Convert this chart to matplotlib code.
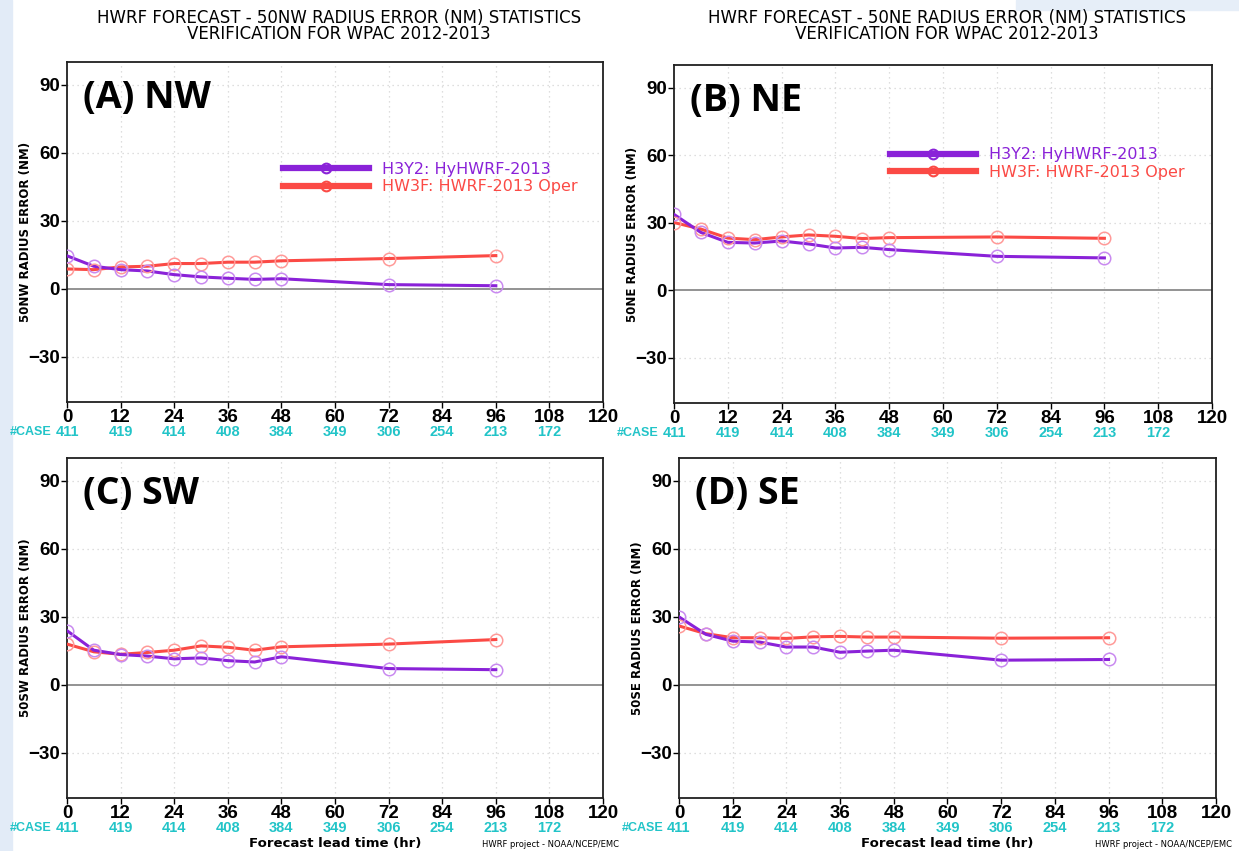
import numpy as np
import matplotlib
matplotlib.use("Agg")
import matplotlib.pyplot as plt
from matplotlib.lines import Line2D
from matplotlib.patches import Rectangle

plt.rcParams['font.family'] = ['Liberation Sans Narrow', 'Liberation Sans', 'DejaVu Sans']

# ---------------- data ----------------
hours = [0, 6, 12, 18, 24, 30, 36, 42, 48, 72, 96]
case_hours = [0, 12, 24, 36, 48, 60, 72, 84, 96, 108]
case_counts = [411, 419, 414, 408, 384, 349, 306, 254, 213, 172]

nw_h3y2 = [14.5, 9.9, 8.4, 7.8, 6.2, 5.2, 4.6, 4.1, 4.4, 1.8, 1.3]
nw_hw3f = [8.7, 8.4, 9.6, 9.9, 11.1, 11.1, 11.7, 11.7, 12.3, 13.3, 14.6]

ne_h3y2 = [33.7, 25.7, 21.3, 21.0, 21.9, 20.6, 18.8, 19.1, 18.1, 15.1, 14.4]
ne_hw3f = [30.1, 27.2, 23.2, 22.5, 23.7, 24.6, 24.0, 23.0, 23.4, 23.7, 23.1]

sw_h3y2 = [23.8, 15.2, 13.3, 12.6, 11.4, 11.8, 10.6, 10.0, 12.3, 7.1, 6.6]
sw_hw3f = [17.9, 14.5, 13.4, 14.2, 15.2, 17.1, 16.5, 15.2, 16.7, 17.9, 19.9]

se_h3y2 = [29.9, 22.2, 19.2, 18.8, 16.6, 16.6, 14.3, 14.8, 15.2, 10.8, 11.1]
se_hw3f = [25.9, 22.5, 20.7, 20.7, 20.4, 21.1, 21.3, 21.0, 21.0, 20.5, 20.7]

quadrants = ["NW", "NE", "SW", "SE"]
panel_tags = ["(A) NW", "(B) NE", "(C) SW", "(D) SE"]
h3y2_all = [nw_h3y2, ne_h3y2, sw_h3y2, se_h3y2]
hw3f_all = [nw_hw3f, ne_hw3f, sw_hw3f, se_hw3f]
label_h3y2 = "H3Y2: HyHWRF-2013"
label_hw3f = "HW3F: HWRF-2013 Oper"

# ---------------- styles ----------------
purple = "#8a22d8"
purple_mk = "#c98af0"
red = "#fb4a45"
red_mk = "#ff9a98"
teal = "#22c4c8"

fig = plt.figure(figsize=(12.39, 8.51), dpi=100)
fig.patch.set_facecolor("white")
# slide background bits at the edges
fig.patches.append(Rectangle((0, 0), 0.010, 1, transform=fig.transFigure,
                             color="#e2ebf7", zorder=-5))
fig.patches.append(Rectangle((0.82, 0.988), 0.18, 0.012, transform=fig.transFigure,
                             color="#e6eef8", zorder=-5))

positions = [
    [0.0541, 0.5276, 0.4326, 0.3995],
    [0.5440, 0.5264, 0.4342, 0.3972],
    [0.0541, 0.0623, 0.4326, 0.3995],
    [0.5480, 0.0623, 0.4334, 0.3995],
]
legend_anchor = [(0.403, 0.706), (0.401, 0.757), None, None]

for i, q in enumerate(quadrants):
    ax = fig.add_axes(positions[i])
    ax.set_xlim(0, 120)
    ax.set_ylim(-50, 100)
    ax.set_xticks(np.arange(0, 121, 12))
    ax.set_yticks([-30, 0, 30, 60, 90])
    ax.tick_params(direction="out", length=4, width=1, labelsize=13.5, pad=1)
    for lab in ax.get_xticklabels() + ax.get_yticklabels():
        lab.set_fontweight("bold")
    for sp in ax.spines.values():
        sp.set_linewidth(1.3)
        sp.set_color("#202020")

    # dotted grid
    for gx in np.arange(12, 120, 12):
        ax.axvline(gx, color="#d4d4d4", lw=0.9, ls=(0, (1, 3)), zorder=0)
    for gy in [-30, 30, 60, 90]:
        ax.axhline(gy, color="#d4d4d4", lw=0.9, ls=(0, (1, 3)), zorder=0)
    ax.axhline(0, color="#8a8a8a", lw=1.3, zorder=1)

    ax.plot(hours, hw3f_all[i], color=red, lw=2.2, zorder=3)
    ax.plot(hours, hw3f_all[i], ls="none", marker="o", ms=9, mfc="none",
            mec=red_mk, mew=1.1, zorder=4)
    ax.plot(hours, h3y2_all[i], color=purple, lw=2.2, zorder=3)
    ax.plot(hours, h3y2_all[i], ls="none", marker="o", ms=9, mfc="none",
            mec=purple_mk, mew=1.1, zorder=4)

    ax.set_ylabel("50%s RADIUS ERROR (NM)" % q, fontsize=8.5, fontweight="bold",
                  family=["DejaVu Sans"])
    ax.yaxis.set_label_coords(-0.066, 0.5)

    ax.text(3.5, 84, panel_tags[i], fontsize=27, fontweight="bold",
            family=["Open Sans", "Lato", "DejaVu Sans"], va="center", ha="left")

    # case counts row
    for h, c in zip(case_hours, case_counts):
        ax.text(h, -0.088, str(c), transform=ax.get_xaxis_transform(),
                ha="center", va="center", fontsize=10.5, fontweight="bold",
                color=teal)
    ax.text(-3.4, -0.088, "#CASE", transform=ax.get_xaxis_transform(),
            ha="right", va="center", fontsize=9, fontweight="bold", color=teal)

    if i < 2:
        cx = positions[i][0] + positions[i][2] / 2 + 0.003
        fig.text(cx, 0.979, "HWRF FORECAST - 50%s RADIUS ERROR (NM) STATISTICS" % q,
                 ha="center", va="center", fontsize=12, family=["DejaVu Sans"])
        fig.text(cx, 0.960, "VERIFICATION FOR WPAC 2012-2013",
                 ha="center", va="center", fontsize=12, family=["DejaVu Sans"])
        handles = [
            Line2D([], [], color=purple, lw=4.5, marker="o", ms=7, mfc="none",
                   mec=purple, mew=1.5),
            Line2D([], [], color=red, lw=4.5, marker="o", ms=7, mfc="none",
                   mec=red, mew=1.5),
        ]
        leg = ax.legend(handles, [label_h3y2, label_hw3f], loc="upper left",
                        bbox_to_anchor=legend_anchor[i], frameon=False,
                        handlelength=5.4, handletextpad=0.8,
                        labelspacing=0.15, borderpad=0, borderaxespad=0,
                        prop={"family": ["DejaVu Sans"], "size": 11.5})
        for t, col in zip(leg.get_texts(), [purple, red]):
            t.set_color(col)
    else:
        ax.text(0.5, -0.133, "Forecast lead time (hr)", transform=ax.transAxes,
                ha="center", va="center", fontsize=9.5, fontweight="bold",
                family=["DejaVu Sans"])
        ax.text(1.03, -0.138, "HWRF project - NOAA/NCEP/EMC", transform=ax.transAxes,
                ha="right", va="center", fontsize=6, family=["DejaVu Sans"])

fig.savefig("out.png", dpi=100)
